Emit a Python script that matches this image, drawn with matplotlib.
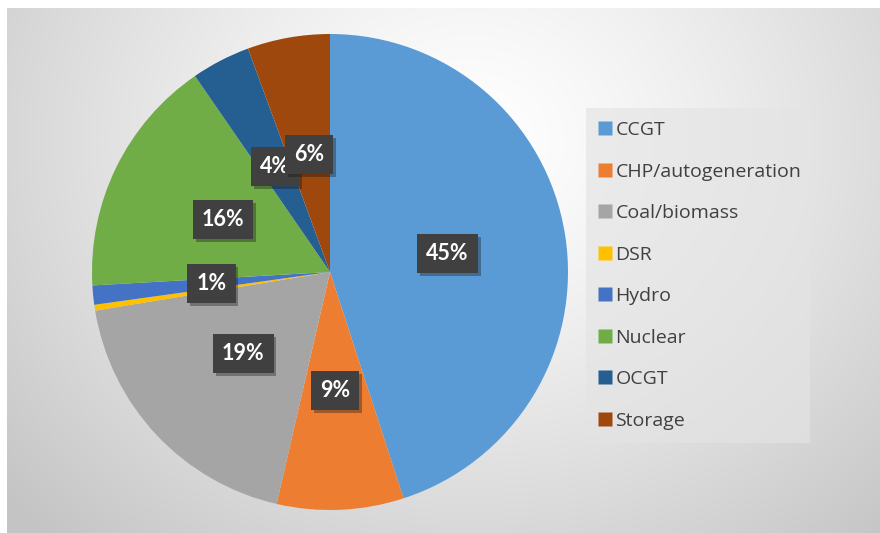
import numpy as np
import matplotlib
matplotlib.use("Agg")
import matplotlib.pyplot as plt
from matplotlib.lines import Line2D
from matplotlib import patheffects as pe

categories = ["CCGT", "CHP/autogeneration", "Coal/biomass", "DSR", "Hydro",
              "Nuclear", "OCGT", "Storage"]
values = [45.0, 8.6, 18.8, 0.4, 1.3, 16.3, 4.0, 5.6]
colors = ["#5B9BD5", "#ED7D31", "#A5A5A5", "#FFC000", "#4472C4",
          "#70AD47", "#255E91", "#9E480E"]

W, H = 880, 533
fig = plt.figure(figsize=(W / 100, H / 100), dpi=100)
fig.patch.set_facecolor("white")

# background radial gradient
bg = fig.add_axes([7 / W, 0, 1 - 7 / W, 1 - 8 / H])
bg.set_axis_off()
yy, xx = np.mgrid[8:H, 7:W]
d = np.sqrt((xx - 470.0) ** 2 + ((yy - 140.0) * 1.15) ** 2)
t = np.clip(d / 620.0, 0, 1)
c = 1.0 - t ** 1.3 * (1.0 - 0.77)
img = np.dstack([c, c, c])
bg.imshow(img, aspect="auto", extent=(0, 1, 0, 1), interpolation="bilinear")
bg.set_xlim(0, 1)
bg.set_ylim(0, 1)

# pie
cx, cy, R = 330, 272, 238
ax = fig.add_axes([(cx - R) / W, 1 - (cy + R) / H, 2 * R / W, 2 * R / H])
ax.set_axis_off()


def fmt(p):
    return "%d%%" % round(p) if p >= 0.5 else ""


wedges, texts, autotexts = ax.pie(values, colors=colors, startangle=90,
                                  counterclock=False, autopct=fmt,
                                  pctdistance=0.5, radius=1.0,
                                  wedgeprops=dict(linewidth=0))
ax.set_xlim(-1, 1)
ax.set_ylim(-1, 1)
for at in autotexts:
    at.set_color("white")
    at.set_fontsize(15.5)
    at.set_fontweight("bold")
    at.set_fontfamily("Lato")
    if at.get_text():
        at.set_bbox(dict(boxstyle="square,pad=0.42", facecolor="#404040",
                         edgecolor="none"))
        at.get_bbox_patch().set_path_effects(
            [pe.SimplePatchShadow(offset=(2, -2), alpha=0.35), pe.Normal()])

handles = [Line2D([0], [0], marker="s", linestyle="none", markersize=10,
                  markerfacecolor=col, markeredgecolor="none") for col in colors]
leg = fig.legend(handles, categories, loc="upper left",
                 bbox_to_anchor=(586 / W, 1 - 108 / H, 224 / W, 0.0001),
                 mode="expand", frameon=True, fancybox=False,
                 prop=dict(family="Open Sans", size=14),
                 labelspacing=1.21, borderpad=0.67, handlelength=0.65,
                 handletextpad=0.2, borderaxespad=0)
fr = leg.get_frame()
fr.set_facecolor("#e4e4e4")
fr.set_alpha(0.65)
fr.set_edgecolor("none")
for txt in leg.get_texts():
    txt.set_color("#404040")

fig.savefig("out.png", dpi=100)
